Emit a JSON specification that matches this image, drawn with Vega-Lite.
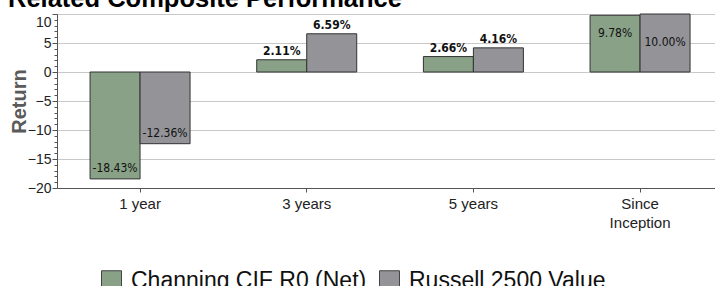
{
  "$schema": "https://vega.github.io/schema/vega-lite/v6.json",
  "autosize": {"type": "none"},
  "padding": {"left": 57, "top": 14, "right": 0, "bottom": 98},
  "width": 658,
  "height": 174,
  "background": "white",
  "title": {
    "text": "Related Composite Performance",
    "font": "Liberation Sans",
    "fontSize": 25.5,
    "fontWeight": "bold",
    "color": "#000000",
    "anchor": "start",
    "frame": "group",
    "dx": -49,
    "dy": 20,
    "offset": 1,
    "baseline": "alphabetic"
  },
  "data": {
    "values": [
      {"period": "1 year", "series": "Channing CIF R0 (Net)", "value": -18.43, "label": "-18.43%"},
      {"period": "1 year", "series": "Russell 2500 Value", "value": -12.36, "label": "-12.36%"},
      {"period": "3 years", "series": "Channing CIF R0 (Net)", "value": 2.11, "label": "2.11%"},
      {"period": "3 years", "series": "Russell 2500 Value", "value": 6.59, "label": "6.59%"},
      {"period": "5 years", "series": "Channing CIF R0 (Net)", "value": 2.66, "label": "2.66%"},
      {"period": "5 years", "series": "Russell 2500 Value", "value": 4.16, "label": "4.16%"},
      {"period": "Since Inception", "series": "Channing CIF R0 (Net)", "value": 9.78, "label": "9.78%"},
      {"period": "Since Inception", "series": "Russell 2500 Value", "value": 10.0, "label": "10.00%"}
    ]
  },
  "encoding": {
    "x": {
      "field": "period",
      "type": "nominal",
      "sort": ["1 year", "3 years", "5 years", "Since Inception"],
      "scale": {"paddingInner": 0.4, "paddingOuter": 0.174, "align": 0.57},
      "axis": {
        "title": null,
        "labelAngle": 0,
        "labelFont": "Liberation Sans",
        "labelFontSize": 15,
        "labelColor": "#222222",
        "labelPadding": 4,
        "labelLineHeight": 19,
        "labelExpr": "datum.value == 'Since Inception' ? ['Since', 'Inception'] : datum.value",
        "tickSize": 4,
        "tickColor": "#555555",
        "domainColor": "#555555",
        "grid": false
      }
    },
    "xOffset": {
      "field": "series",
      "type": "nominal",
      "sort": ["Channing CIF R0 (Net)", "Russell 2500 Value"],
      "scale": {"paddingInner": 0, "paddingOuter": 0}
    },
    "y": {
      "field": "value",
      "type": "quantitative",
      "scale": {"domain": [-20, 10], "nice": false, "zero": true}
    }
  },
  "layer": [
    {
      "mark": {"type": "bar", "stroke": "#333333", "strokeWidth": 1},
      "encoding": {
        "y": {
          "field": "value",
          "type": "quantitative",
          "axis": {
            "title": "Return",
            "titleFont": "Liberation Sans",
            "titleFontSize": 20,
            "titleFontWeight": "bold",
            "titleColor": "#5a5a5a",
            "titlePadding": -2,
            "values": [-20, -15, -10, -5, 0, 5, 10],
            "labelFont": "Liberation Sans",
            "labelFontSize": 14,
            "labelColor": "#222222",
            "labelPadding": 1,
            "labelOffset": {"condition": {"test": "datum.value == 10", "value": 8}, "value": 0},
            "tickSize": 5,
            "tickColor": "#555555",
            "domainColor": "#555555",
            "grid": true,
            "gridColor": "#c8c8c8",
            "gridWidth": 1
          }
        },
        "color": {
          "field": "series",
          "type": "nominal",
          "sort": ["Channing CIF R0 (Net)", "Russell 2500 Value"],
          "scale": {"domain": ["Channing CIF R0 (Net)", "Russell 2500 Value"], "range": ["#88a187", "#939398"]},
          "legend": {
            "title": null,
            "orient": "none",
            "legendX": 43,
            "legendY": 255,
            "direction": "horizontal",
            "symbolType": "square",
            "symbolSize": 400,
            "symbolStrokeColor": "#444444",
            "symbolStrokeWidth": 1,
            "labelFont": "Liberation Sans",
            "labelFontSize": 23,
            "labelColor": "#111111",
            "labelOffset": 8,
            "columnPadding": 10,
            "labelLimit": 400
          }
        }
      }
    },
    {
      "transform": [{"filter": "datum.period != 'Since Inception' && datum.value > 0"}],
      "mark": {"type": "text", "font": "'DejaVu Sans Condensed', 'Liberation Sans', sans-serif", "fontSize": 12, "fontWeight": "bold", "color": "#111111", "baseline": "bottom", "dy": -2},
      "encoding": {
        "text": {"field": "label"},
        "y": {
          "field": "value",
          "type": "quantitative",
          "axis": {
            "orient": "left",
            "values": [-20, -19, -18, -17, -16, -15, -14, -13, -12, -11, -10, -9, -8, -7, -6, -5, -4, -3, -2, -1, 0, 1, 2, 3, 4, 5, 6, 7, 8, 9, 10],
            "labels": false,
            "title": null,
            "domain": false,
            "grid": false,
            "tickSize": 3,
            "tickColor": "#555555"
          }
        }
      }
    },
    {
      "transform": [{"filter": "datum.value < 0"}],
      "mark": {"type": "text", "font": "'DejaVu Sans Condensed', 'Liberation Sans', sans-serif", "fontSize": 12, "color": "#111111", "baseline": "bottom", "dy": -4},
      "encoding": {
        "text": {"field": "label"},
        "y": {"field": "value", "type": "quantitative", "axis": null}
      }
    },
    {
      "transform": [{"filter": "datum.period == 'Since Inception' && datum.series == 'Channing CIF R0 (Net)'"}],
      "mark": {"type": "text", "font": "'DejaVu Sans Condensed', 'Liberation Sans', sans-serif", "fontSize": 12, "color": "#111111", "baseline": "middle", "dy": 18},
      "encoding": {
        "text": {"field": "label"},
        "y": {"field": "value", "type": "quantitative", "axis": null}
      }
    },
    {
      "transform": [{"filter": "datum.period == 'Since Inception' && datum.series == 'Russell 2500 Value'"}],
      "mark": {"type": "text", "font": "'DejaVu Sans Condensed', 'Liberation Sans', sans-serif", "fontSize": 12, "color": "#111111", "baseline": "middle", "dy": 28},
      "encoding": {
        "text": {"field": "label"},
        "y": {"field": "value", "type": "quantitative", "axis": null}
      }
    }
  ],
  "resolve": {"axis": {"y": "independent"}},
  "config": {
    "view": {"stroke": null},
    "axis": {"domainWidth": 1, "tickWidth": 1}
  }
}
